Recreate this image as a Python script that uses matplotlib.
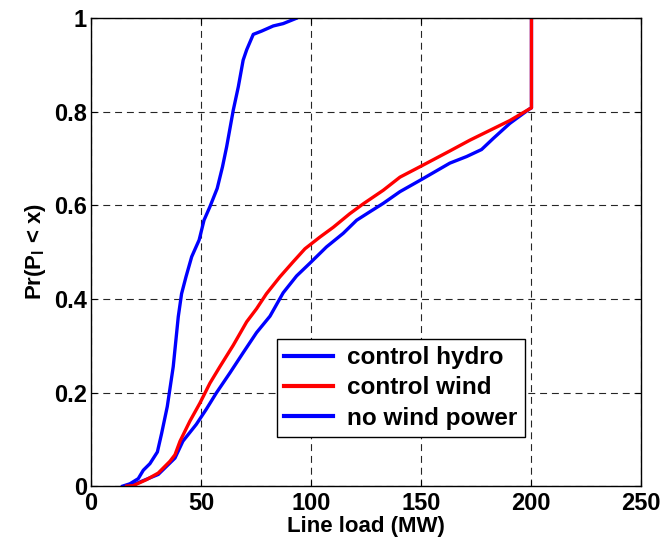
import numpy as np
import matplotlib
matplotlib.use("Agg")
import matplotlib.pyplot as plt
from matplotlib.ticker import FuncFormatter

plt.rcParams['font.family'] = ['Liberation Sans', 'DejaVu Sans']
plt.rcParams['font.weight'] = 'bold'
plt.rcParams['mathtext.fontset'] = 'custom'
plt.rcParams['mathtext.rm'] = 'Liberation Sans:bold'
plt.rcParams['mathtext.default'] = 'rm'
plt.rcParams['lines.scale_dashes'] = False

## data (line load MW, cumulative probability)
hydro_x = [14.4, 17.7, 21.5, 23.8, 26.8, 30.2, 32.1, 34.7, 37.4, 39.7, 41.2, 43.2, 45.8, 49.2,
           51.4, 54.1, 57.4, 59.8, 61.7, 64.7, 67.0, 69.2, 70.8, 73.8, 77.6, 82.9, 87.4, 93.2]
hydro_y = [0, 0.005, 0.016, 0.034, 0.048, 0.073, 0.112, 0.170, 0.255, 0.362, 0.411, 0.447, 0.490, 0.526,
           0.568, 0.597, 0.636, 0.682, 0.725, 0.803, 0.853, 0.910, 0.932, 0.965, 0.972, 0.983, 0.988, 0.999]

wind_x = [16.2, 19.2, 25.3, 30.6, 35.9, 38.2, 40.5, 45.0, 49.5, 54.1, 58.6, 64.7, 70.8, 75.3, 79.8,
          85.9, 91.9, 97.3, 104.1, 110.2, 117.7, 123.8, 132.9, 140.5, 150.3, 163.2, 172.3, 181.4,
          190.5, 199.5, 200.3, 200.3]
wind_y = [0, 0.001, 0.014, 0.028, 0.053, 0.067, 0.096, 0.139, 0.177, 0.220, 0.255, 0.301, 0.351, 0.379, 0.411,
          0.447, 0.479, 0.507, 0.532, 0.553, 0.582, 0.603, 0.632, 0.660, 0.684, 0.716, 0.739, 0.760,
          0.781, 0.806, 0.808, 1.0]

nowind_x = [17.7, 30.6, 38.2, 41.8, 47.9, 52.4, 57.0, 63.2, 69.2, 75.3, 81.4, 87.4, 93.5, 99.5, 107.1,
            114.7, 120.8, 126.8, 132.9, 140.5, 150.3, 163.2, 170.8, 177.6, 183.0, 190.5, 199.5, 200.3, 200.3]
nowind_y = [0, 0.025, 0.060, 0.096, 0.132, 0.164, 0.199, 0.242, 0.285, 0.328, 0.363, 0.413, 0.449, 0.476, 0.511,
            0.540, 0.568, 0.586, 0.604, 0.629, 0.655, 0.690, 0.704, 0.719, 0.743, 0.775, 0.806, 0.808, 1.0]

labels = ['control hydro', 'control wind', 'no wind power']
xticks = [0, 50, 100, 150, 200, 250]
yticks = [0, 0.2, 0.4, 0.6, 0.8, 1]

fig = plt.figure(figsize=(6.64, 5.45), dpi=100)
ax = fig.add_axes([0.137, 0.108, 0.828, 0.859])

# grid first so curves sit on top
ax.grid(True, color='k', linestyle=(0, (5, 3.5)), linewidth=0.8, alpha=0.85)
ax.set_axisbelow(True)

l1, = ax.plot(hydro_x, hydro_y, color='#0000ff', lw=2.4)
l3, = ax.plot(nowind_x, nowind_y, color='#0000ff', lw=2.4)
l2, = ax.plot(wind_x, wind_y, color='#ff0000', lw=2.4)

ax.set_xlim(0, 250)
ax.set_ylim(0, 1)
ax.set_xticks(xticks)
ax.set_yticks(yticks)
ax.xaxis.set_major_formatter(FuncFormatter(lambda v, p: '%g' % v))
ax.yaxis.set_major_formatter(FuncFormatter(lambda v, p: '%g' % v))
ax.tick_params(direction='in', length=4, width=0.8, labelsize=17, top=True, right=True, pad=3)
ax.tick_params(axis='x', pad=4)
for s in ax.spines.values():
    s.set_linewidth(1.0)

ax.set_xlabel('Line load (MW)', fontsize=16, fontweight='bold', labelpad=1)
ax.set_ylabel(r'Pr(P$_l$ < x)', fontsize=16, fontweight='bold', labelpad=4)

leg = ax.legend([l1, l2, l3], labels, loc='lower right', bbox_to_anchor=(0.789, 0.105),
                fontsize=17.5, handlelength=2.0, handletextpad=0.6, labelspacing=0.3,
                borderpad=0.3, fancybox=False, framealpha=1, edgecolor='k',
                borderaxespad=0)
leg.get_frame().set_linewidth(1.0)
for h in leg.get_lines():
    h.set_linewidth(3.0)

fig.savefig('out.png', dpi=100)
